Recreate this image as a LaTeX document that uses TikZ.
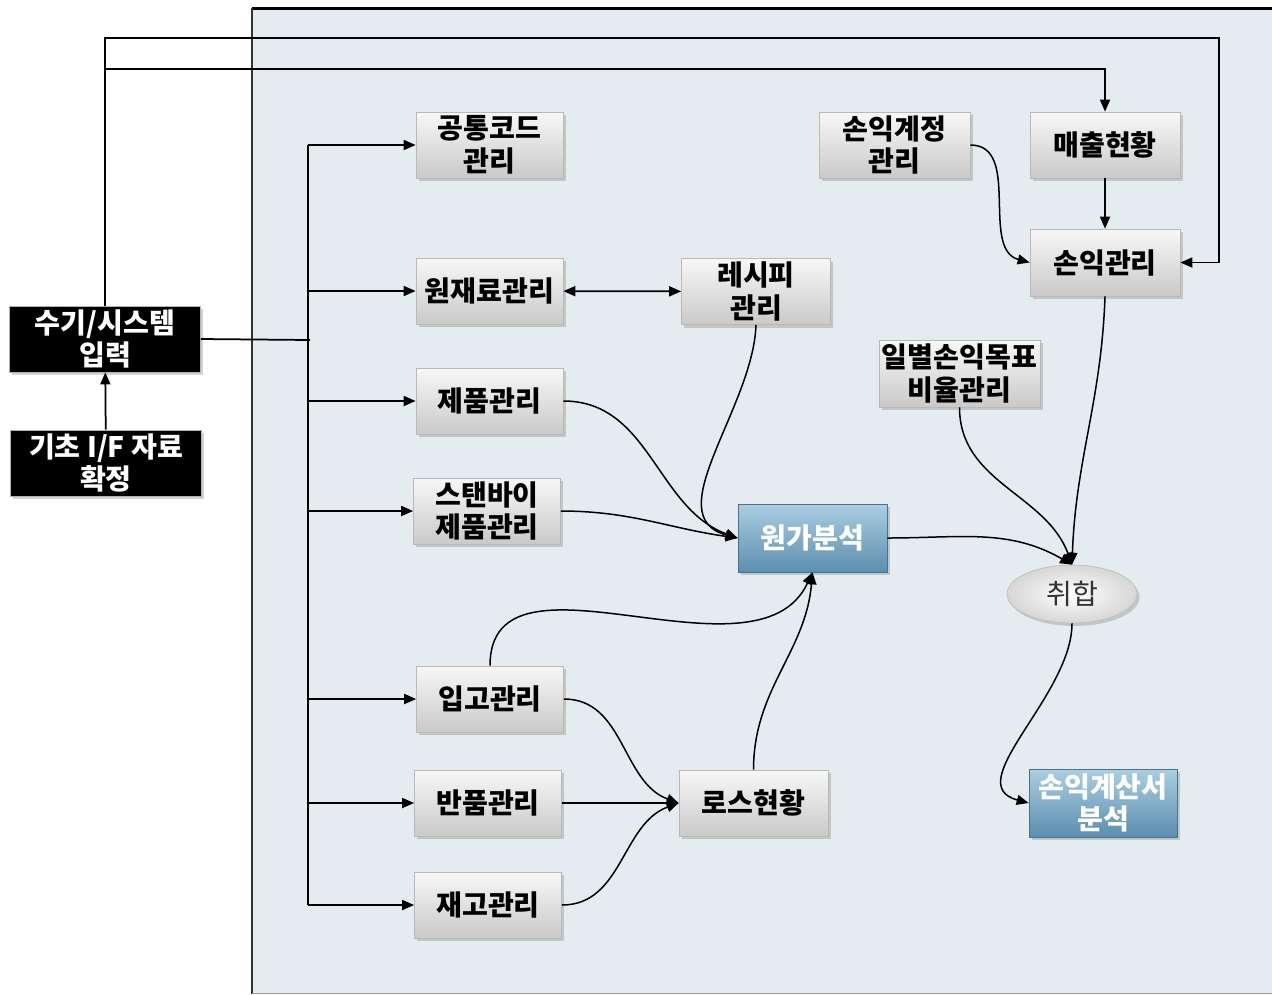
\documentclass[tikz,border=0pt]{standalone}
\usepackage{fontspec}
\setmainfont{Noto Sans CJK KR}
\usepackage{tikz}
\usetikzlibrary{arrows.meta,shapes.geometric,shadows}
\definecolor{panelbg}{RGB}{229,236,240}
\definecolor{bluetop}{RGB}{170,206,226}
\definecolor{bluebot}{RGB}{92,142,174}

\begin{document}
\begin{tikzpicture}[
		graybox/.style={draw=gray!55, top color=gray!6, bottom color=gray!42, minimum width=2.94cm, minimum height=1.32cm, inner sep=0pt, align=center, font=\fontsize{16}{18.5}\selectfont\bfseries, drop shadow={shadow xshift=0.05cm, shadow yshift=-0.06cm, opacity=0.35}},
		bluebox/.style={graybox, draw=bluebot!80!black, top color=bluetop, bottom color=bluebot, text=white},
		blackbox/.style={graybox, draw=gray!60, fill=black, top color=black, bottom color=black, text=white, minimum width=3.82cm},
		arr/.style={line width=0.35mm, -{Triangle[length=2.4mm, width=2mm]}},
		carr/.style={line width=0.3mm, -{Triangle[length=2.4mm, width=2mm]}}
	]
			%%%%% START %%%%%
			
			\useasboundingbox (0, 0) rectangle (25.44, -19.88);
			
			\fill[panelbg] (5.04, -0.16) rectangle (25.44, -19.86);
			\draw[line width=0.6mm] (5.04, -0.16) -- (25.44, -0.16);
			\draw[line width=0.4mm, color=black!80] (5.04, -0.16) -- (5.04, -19.88);
			\draw[line width=0.2mm, color=black!40] (5.04, -19.86) -- (25.44, -19.86);
			
			\node[blackbox] (input) at (2.10, -6.78) {수기/시스템\\입력};
			\node[blackbox] (base) at (2.12, -9.26) {기초 I/F 자료\\확정};
			
			\node[graybox] (code) at (9.79, -2.90) {공통코드\\관리};
			\node[graybox] (raw) at (9.79, -5.82) {원재료관리};
			\node[graybox] (prod) at (9.79, -8.02) {제품관리};
			\node[graybox] (stby) at (9.74, -10.22) {스탠바이\\제품관리};
			\node[graybox] (recv) at (9.80, -13.98) {입고관리};
			\node[graybox] (ret) at (9.76, -16.06) {반품관리};
			\node[graybox] (stock) at (9.76, -18.10) {재고관리};
			
			\node[graybox, minimum width=2.98cm] (recipe) at (15.12, -5.83) {레시피\\관리};
			\node[bluebox, minimum width=2.98cm, minimum height=1.36cm] (cost) at (16.25, -10.76) {원가분석};
			\node[graybox, minimum width=2.98cm] (loss) at (15.07, -16.06) {로스현황};
			
			\node[graybox, minimum width=3.02cm] (acct) at (17.89, -2.90) {손익계정\\관리};
			\node[graybox, minimum width=3.00cm] (sales) at (22.10, -2.90) {매출현황};
			\node[graybox, minimum width=3.00cm, minimum height=1.34cm] (pl) at (22.10, -5.25) {손익관리};
			\node[graybox, minimum width=3.22cm, minimum height=1.34cm] (target) at (19.19, -7.47) {일별손익목표\\비율관리};
			\node[ellipse, draw=gray!50, shading=radial, inner color=white, outer color=gray!32, minimum width=2.6cm, minimum height=1.16cm, inner sep=0pt, font=\fontsize{16}{18.5}\selectfont, text=black!80, drop shadow={shadow xshift=0.05cm, shadow yshift=-0.06cm, opacity=0.35}] (merge) at (21.44, -11.88) {취합};
			\node[bluebox, minimum width=2.96cm, minimum height=1.36cm] (report) at (22.06, -16.06) {손익계산서\\분석};
			
			% left side feed
			\draw[arr] (base) -- (input);
			\coordinate (busT) at (6.16, -2.90);
			\coordinate (busB) at (6.16, -18.10);
			\draw[line width=0.35mm] (input.east) -- (6.20, -6.80);
			\draw[line width=0.35mm] (busT) -- (busB);
			\draw[arr] (busT) -- (code.west);
			\draw[arr] (6.16, -5.82) -- (raw.west);
			\draw[arr] (6.16, -8.02) -- (prod.west);
			\draw[arr] (6.16, -10.22) -- (stby.west);
			\draw[arr] (6.16, -13.98) -- (recv.west);
			\draw[arr] (6.16, -16.06) -- (ret.west);
			\draw[arr] (busB) -- (stock.west);
			
			% top lines
			\coordinate (topR) at (24.38, -0.76);
			\coordinate (tap) at (2.12, -1.38);
			\draw[arr] (input.north) |- (topR) |- (pl.east);
			\draw[arr] (tap) -| (sales.north);
			
			\draw[line width=0.35mm, {Triangle[length=2.4mm, width=2mm]}-{Triangle[length=2.4mm, width=2mm]}] (raw) -- (recipe);
			
			% into cost
			\draw[carr] (recipe.south) to[out=-92, in=165] (cost.west);
			\draw[carr] (prod.east) to[out=0, in=160] (cost.west);
			\draw[carr] (stby.east) to[out=0, in=172] (cost.west);
			\draw[carr] (recv.north) to[out=90, in=-115] (cost.south);
			\draw[carr] (loss.north) to[out=90, in=-95] (cost.south);
			
			% into loss
			\draw[carr] (recv.east) to[out=0, in=160] (loss.west);
			\draw[arr] (ret) -- (loss);
			\draw[carr] (stock.east) to[out=0, in=-160] (loss.west);
			
			% profit side
			\draw[carr] (acct.east) to[out=0, in=165] (pl.west);
			\draw[arr] (sales) -- (pl);
			\draw[carr] (pl.south) to[out=-92, in=88] (merge.north);
			\draw[carr] (target.south) to[out=-90, in=110] (merge.north);
			\draw[carr] (cost.east) to[out=0, in=150] (merge.north);
			\draw[carr] (merge.south) to[out=-90, in=165] (report.west);
			
			%%%%% END %%%%%
		\end{tikzpicture}
\end{document}
